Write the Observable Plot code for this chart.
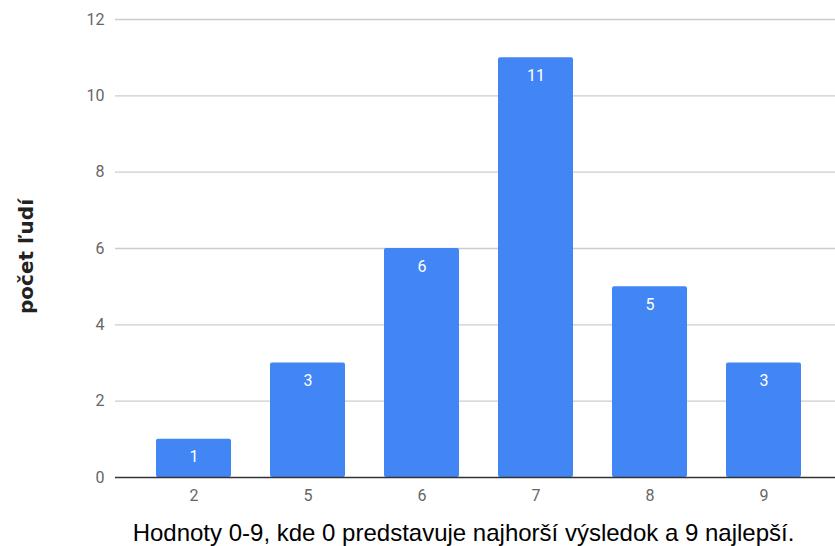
<!DOCTYPE html>
<html>
<head>
<meta charset="utf-8">
<script src="https://cdn.jsdelivr.net/npm/d3@7"></script>
<script src="https://cdn.jsdelivr.net/npm/@observablehq/plot@0.6"></script>
<style>
  body { margin: 0; background: #fff; }
  #chart svg { display: block; }
</style>
</head>
<body>
<div id="chart"></div>
<script>
const categories = ["2", "5", "6", "7", "8", "9"];
const counts = [1, 3, 6, 11, 5, 3];
const yTicks = [0, 2, 4, 6, 8, 10, 12];
const xTitle = "Hodnoty 0-9, kde 0 predstavuje najhorší výsledok a 9 najlepší.";
const yTitle = "počet ľudí";

const data = categories.map((c, i) => ({ category: c, count: counts[i] }));

const chart = Plot.plot({
  width: 835,
  height: 546,
  marginTop: 19,
  marginBottom: 69,
  marginLeft: 115,
  marginRight: 0,
  style: { fontFamily: "Roboto, sans-serif", background: "#fff" },
  x: { domain: categories, range: [114, 842], padding: 0.345 },
  y: { domain: [0, 12], ticks: yTicks },
  marks: [
    Plot.ruleY(yTicks.filter(d => d > 0), { stroke: "#cccccc", strokeWidth: 1.3 }),
    Plot.barY(data, { x: "category", y: "count", fill: "#4285f4", rx: 2 }),
    Plot.ruleY([0], { stroke: "#333333", strokeWidth: 1.3 }),
    Plot.text(data, {
      x: "category", y: "count", text: d => String(d.count),
      dy: 18, fill: "#ffffff", fontSize: 16, lineAnchor: "middle"
    }),
    Plot.axisY({
      ticks: yTicks, tickSize: 0, tickPadding: 11, fontSize: 16, color: "#666666",
      label: yTitle, labelAnchor: "center", labelArrow: "none", labelOffset: 97
    }),
    Plot.axisX({
      tickSize: 0, tickPadding: 12, fontSize: 16, color: "#666666",
      label: null
    }),
    Plot.axisX({
      ticks: [], tickSize: 0, label: xTitle, labelAnchor: "center",
      labelArrow: "none", labelOffset: 63
    })
  ]
});

document.getElementById("chart").appendChild(chart);

// Style axis titles
d3.select(chart).selectAll("g[aria-label='y-axis label'] text")
  .attr("fill", "#222").attr("dx", -8).style("font-size", "20px").style("font-weight", "bold")
  .style("font-family", "'DejaVu Sans', sans-serif");
d3.select(chart).selectAll("g[aria-label='x-axis label'] text")
  .attr("fill", "#000").attr("dx", -12).style("font-size", "24px")
  .style("font-family", "'Liberation Sans', Arial, sans-serif");
</script>
</body>
</html>
